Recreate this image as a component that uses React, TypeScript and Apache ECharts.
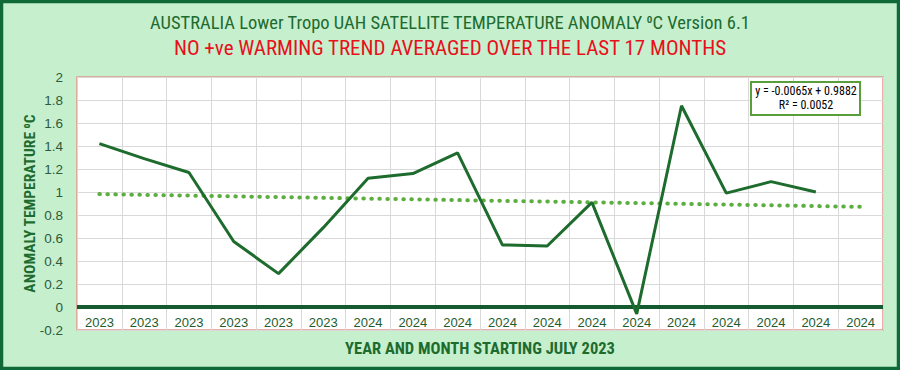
import React, { useEffect, useRef } from "react";
import * as echarts from "echarts";

const categories: string[] = [
  "2023", "2023", "2023", "2023", "2023", "2023",
  "2024", "2024", "2024", "2024", "2024", "2024",
  "2024", "2024", "2024", "2024", "2024", "2024",
];
const anomalies: number[] = [
  1.42, 1.29, 1.17, 0.57, 0.29, 0.69, 1.12, 1.16, 1.34,
  0.54, 0.53, 0.91, -0.06, 1.75, 0.99, 1.09, 1.0,
];
const trendSlope = -0.0065;
const trendIntercept = 0.9882;
const yTicks = { min: -0.2, max: 2, interval: 0.2 };
const titleLine1 = "AUSTRALIA Lower Tropo UAH SATELLITE TEMPERATURE ANOMALY \u2070C Version 6.1";
const titleLine2 = "NO +ve WARMING TREND AVERAGED OVER THE LAST 17 MONTHS";
const eqLine1 = "y = -0.0065x + 0.9882";
const eqLine2 = "R\u00b2 = 0.0052";

const NARROW = "'Liberation Sans Narrow', 'Roboto Condensed', 'Liberation Sans', sans-serif";
const SANS = "'Liberation Sans', Arial, sans-serif";

export default function App() {
  const ref = useRef<HTMLDivElement>(null);
  useEffect(() => {
    document.body.style.margin = "0";
    if (!ref.current) return;
    const chart = echarts.init(ref.current, undefined, { renderer: "svg" });
    const trend = categories.map((_, i) => +(trendSlope * (i + 1) + trendIntercept).toFixed(4));
    chart.setOption({
      animation: false,
      backgroundColor: "#c6efce",
      title: [
        {
          text: titleLine1,
          left: "center",
          top: 8,
          textStyle: { color: "#1e6b2e", fontSize: 18.5, fontWeight: "normal", fontFamily: NARROW },
        },
        {
          text: titleLine2,
          left: "center",
          top: 32,
          textStyle: { color: "#e8101a", fontSize: 21, fontWeight: "normal", fontFamily: NARROW },
        },
      ],
      grid: {
        left: 77,
        right: 17,
        top: 77,
        bottom: 40,
        show: true,
        backgroundColor: "#ffffff",
        borderColor: "#e3968a",
        borderWidth: 1.5,
      },
      xAxis: {
        type: "category",
        data: categories,
        boundaryGap: true,
        name: "YEAR AND MONTH STARTING JULY 2023",
        nameLocation: "middle",
        nameGap: 10,
        nameMoveOverlap: false,
        nameTextStyle: { color: "#1e6b2e", fontSize: 16.5, fontWeight: "bold", fontFamily: NARROW, verticalAlign: "top" },
        axisLine: { show: false },
        axisTick: { show: false },
        axisLabel: { inside: true, margin: 1, color: "#1e5c2e", fontSize: 13, fontFamily: SANS, interval: 0 },
        splitLine: { show: true, interval: 0, lineStyle: { color: "#d9d9d9", width: 1 } },
      },
      yAxis: {
        type: "value",
        min: yTicks.min,
        max: yTicks.max,
        interval: yTicks.interval,
        name: "ANOMALY TEMPERATURE \u2070C",
        nameLocation: "middle",
        nameGap: 39,
        nameRotate: 90,
        nameMoveOverlap: false,
        nameTextStyle: { color: "#1e6b2e", fontSize: 15.5, fontWeight: "bold", fontFamily: NARROW },
        axisLine: { show: false },
        axisTick: { show: false },
        axisLabel: {
          color: "#2e5a3a",
          fontSize: 13.5,
          fontFamily: SANS,
          margin: 14,
          formatter: (v: number) => String(+v.toFixed(1)),
        },
        splitLine: { lineStyle: { color: "#d9d9d9", width: 1 } },
      },
      series: [
        {
          type: "line",
          data: trend,
          symbol: "none",
          silent: true,
          lineStyle: { color: "#5cae3e", width: 4, type: [0.5, 7.5], cap: "round" },
          z: 2,
        },
        {
          type: "line",
          data: anomalies,
          symbol: "none",
          lineStyle: { color: "#1e6b2e", width: 3 },
          z: 4,
          markLine: {
            silent: true,
            symbol: "none",
            label: { show: false },
            lineStyle: { color: "#145c30", width: 4, type: "solid" },
            data: [{ yAxis: 0 }],
            z: 3,
          },
        },
      ],
      graphic: [
        {
          type: "rect",
          shape: { x: 1.5, y: 1.5, width: 897, height: 367 },
          style: { fill: "none", stroke: "#0f6a38", lineWidth: 3.5 },
          silent: true,
          z: 100,
        },
        {
          type: "rect",
          shape: { x: 751, y: 82, width: 109, height: 33 },
          style: { fill: "#ffffff", stroke: "#5a9e3c", lineWidth: 2 },
          z: 100,
        },
        {
          type: "text",
          x: 806,
          y: 90.5,
          style: { text: eqLine1, fill: "#000000", font: "12px " + NARROW, align: "center", verticalAlign: "middle" },
          z: 101,
        },
        {
          type: "text",
          x: 806,
          y: 105,
          style: { text: eqLine2, fill: "#000000", font: "12px " + NARROW, align: "center", verticalAlign: "middle" },
          z: 101,
        },
      ],
    });
    return () => chart.dispose();
  }, []);
  return <div ref={ref} style={{ width: 900, height: 370 }} />;
}
